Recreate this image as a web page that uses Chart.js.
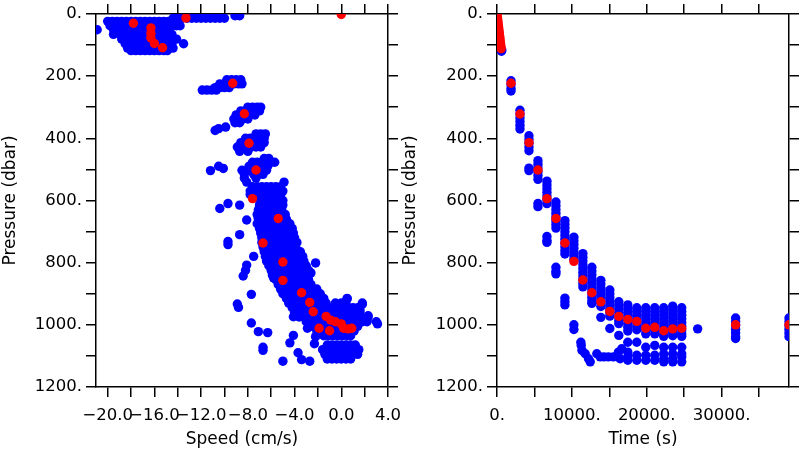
<!DOCTYPE html>
<html>
<head>
<meta charset="utf-8">
<script src="https://cdn.jsdelivr.net/npm/chart.js@4"></script>
<style>
  body { margin: 0; background: #fff; }
  #wrap { position: relative; width: 800px; height: 450px; overflow: hidden; }
  canvas { position: absolute; top: 0; }
  #speedChart { left: 0; }
  #timeChart { left: 400px; }
</style>
</head>
<body>
<div id="wrap">
  <canvas id="speedChart" width="440" height="450"></canvas>
  <canvas id="timeChart" width="400" height="450"></canvas>
</div>
<script>
// axis ticks (minor ticks get an empty label)
const presTicks = [0, 100, 200, 300, 400, 500, 600, 700, 800, 900, 1000, 1100, 1200];
const presTickText = ['0.', '', '200.', '', '400.', '', '600.', '', '800.', '', '1000.', '', '1200.'];
const speedTicks = [-20, -18, -16, -14, -12, -10, -8, -6, -4, -2, 0, 2, 4];
const speedTickText = ['−20.0', '', '−16.0', '', '−12.0', '', '−8.0', '', '−4.0', '', '0.0', '', '4.0'];
const timeTicks = [0, 5000, 10000, 15000, 20000, 25000, 30000, 35000];
const timeTickText = ['0.', '', '10000.', '', '20000.', '', '30000.', ''];

// left panel, all samples: [pressure, speed, speed, ...]
const speedRows = [
    [6, -14.2, -13.8, -13.4, -13.0, -12.6, -12.2, -11.8, -11.4, -11.0, -10.6, -10.2, -9.1, -8.7],
    [14, -14.4, -14.0, -13.6, -13.2, -12.8, -12.4, -12.0, -11.6, -11.2, -10.8, -10.4, -10.0],
    [24, -20.0, -19.6, -19.2, -18.8, -18.4, -18.0, -17.6, -17.2, -16.8, -16.4, -16.0, -15.6, -15.2, -14.8, -14.4],
    [38, -19.8, -19.4, -18.9, -18.5, -18.1, -17.7, -17.3, -16.9, -16.5, -16.1, -15.7, -15.3, -14.9, -14.5, -14.1, -13.8],
    [51, -20.9, -19.5, -19.1, -18.7, -18.3, -17.9, -17.5, -17.1, -16.7, -16.3, -15.9, -15.5, -15.1, -14.7],
    [66, -19.5, -18.9, -18.5, -18.1, -17.7, -17.3, -16.9, -16.5, -16.1, -15.7, -15.3, -14.9, -14.5],
    [81, -18.8, -18.4, -18.0, -17.6, -17.2, -16.8, -16.4, -16.0, -15.6, -15.2, -14.8, -14.4, -14.1],
    [96, -18.5, -18.1, -17.7, -17.3, -16.9, -16.5, -16.1, -15.7, -15.3, -14.9, -14.5, -13.5],
    [110, -18.3, -17.9, -17.5, -17.1, -16.7, -16.3, -15.9, -15.5, -15.1, -14.7, -14.4],
    [118, -18.0, -17.6, -17.2, -16.8, -16.4, -16.0, -15.6, -15.2, -14.9],
    [212, -9.8, -9.4, -9.0, -8.6],
    [225, -10.4, -10.0, -9.6, -9.2, -8.8, -8.5],
    [237, -10.8, -10.4, -10.0, -9.6],
    [245, -11.9, -11.5, -11.1, -10.7],
    [300, -8.0, -7.6, -7.2, -6.9],
    [312, -8.6, -8.2, -7.8, -7.4, -7.0],
    [325, -9.0, -8.6, -8.2, -7.8, -7.4],
    [338, -9.2, -8.8, -8.4, -8.0],
    [350, -9.1, -8.7],
    [386, -7.3, -6.9, -6.5],
    [400, -8.2, -7.8, -7.4, -7.0, -6.6],
    [414, -8.6, -8.2, -7.8, -7.4, -7.0, -6.6],
    [428, -8.9, -8.5, -8.1, -7.7, -7.3, -6.9],
    [442, -8.7, -8.0],
    [465, -6.6, -6.2],
    [477, -7.6, -7.2, -6.8, -6.4, -6.0, -5.7],
    [490, -7.9, -7.5, -7.1, -6.7, -6.3],
    [503, -8.5, -8.0, -7.6, -7.2, -6.8, -6.4],
    [516, -8.3, -7.5, -7.1, -6.7],
    [528, -8.3, -7.3],
    [541, -8.1, -4.9],
    [556, -7.6, -7.2, -6.8, -6.4, -6.0, -5.6, -5.2],
    [570, -7.8, -7.4, -7.0, -6.6, -6.2, -5.8, -5.4, -5.0],
    [585, -7.6, -7.2, -6.8, -6.4, -6.0, -5.6, -5.2],
    [600, -7.0, -6.6, -6.2, -5.8, -5.4, -5.0],
    [615, -7.0, -6.6, -6.2, -5.8, -5.4, -5.0],
    [630, -7.1, -6.7, -6.3, -5.9, -5.5, -5.1],
    [645, -7.2, -6.8, -6.4, -6.0, -5.6, -5.2, -4.8],
    [660, -7.1, -6.7, -6.3, -5.9, -5.5, -5.1, -4.7],
    [675, -7.2, -6.8, -6.4, -6.0, -5.6, -5.2, -4.8, -4.4],
    [690, -7.0, -6.6, -6.2, -5.8, -5.4, -5.0, -4.6, -4.2],
    [705, -6.9, -6.5, -6.1, -5.7, -5.3, -4.9, -4.5, -4.1],
    [720, -6.8, -6.4, -6.0, -5.6, -5.2, -4.8, -4.4, -4.0],
    [735, -6.8, -6.4, -6.0, -5.6, -5.2, -4.8, -4.4, -4.0, -3.8],
    [750, -6.7, -6.3, -5.9, -5.5, -5.1, -4.7, -4.3, -3.9],
    [765, -6.6, -6.2, -5.8, -5.4, -5.0, -4.6, -4.2, -3.8, -3.5],
    [780, -6.5, -6.1, -5.7, -5.3, -4.9, -4.5, -4.1, -3.7, -3.3],
    [795, -6.4, -6.0, -5.6, -5.2, -4.8, -4.4, -4.0, -3.6, -3.2],
    [810, -6.2, -5.8, -5.4, -5.0, -4.6, -4.2, -3.8, -3.4, -3.0],
    [825, -6.0, -5.6, -5.2, -4.8, -4.4, -4.0, -3.6, -3.2, -2.8],
    [840, -5.9, -5.5, -5.1, -4.7, -4.3, -3.9, -3.5, -3.1, -2.8],
    [855, -5.6, -5.2, -4.8, -4.4, -4.0, -3.6, -3.2, -2.8],
    [870, -5.4, -5.0, -4.6, -4.2, -3.8, -3.4, -3.0, -2.6],
    [885, -5.2, -4.8, -4.4, -4.0, -3.6, -3.2, -2.8, -2.4, -2.1],
    [900, -5.0, -4.6, -4.2, -3.8, -3.4, -3.0, -2.6, -2.2, -1.8],
    [915, -4.7, -4.3, -3.9, -3.5, -3.1, -2.7, -2.3, -1.9, -1.5, 0.5],
    [930, -4.5, -4.1, -3.7, -3.3, -2.9, -2.5, -2.1, -1.7, -1.3, -0.5, 0.0, 0.4, 1.8],
    [945, -4.2, -3.8, -3.4, -3.0, -2.6, -2.2, -1.8, -1.4, -1.0, -0.6, -0.2, 0.2, 0.6, 1.0, 1.4],
    [960, -4.0, -3.6, -3.2, -2.8, -2.4, -2.0, -1.6, -1.2, -0.8, -0.4, 0.0, 0.4, 0.8, 1.2, 1.6],
    [975, -3.6, -3.2, -2.8, -2.4, -2.0, -1.6, -1.2, -0.8, -0.4, 0.0, 0.4, 0.8, 1.2, 1.6, 2.3],
    [990, -3.0, -2.6, -2.2, -1.8, -1.4, -1.0, -0.6, -0.2, 0.2, 0.6, 1.0, 1.4, 1.8, 2.2, 3.0],
    [1005, -2.6, -2.2, -1.8, -1.4, -1.0, -0.6, -0.2, 0.2, 0.6, 1.0, 1.4],
    [1020, -2.1, -1.7, -1.3, -0.9, -0.5, -0.1, 0.3, 0.7, 1.1],
    [1035, -1.5, -1.1, -0.7, -0.3, 0.1, 0.5, 0.8],
    [1065, -1.2, -0.8, -0.4, 0.0, 0.4, 0.8, 1.2],
    [1080, -1.6, -1.2, -0.8, -0.4, 0.0, 0.4, 0.8, 1.2, 1.5],
    [1095, -1.4, -1.0, -0.6, -0.2, 0.2, 0.6, 1.0, 1.4],
    [1110, -1.2, -0.8, -0.4, 0.0, 0.4, 0.8]
];
// scattered samples off the main band: [speed, pressure]
const speedStray = [
    [-10.8, 375], [-10.5, 369], [-9.9, 364], [-11.2, 504], [-10.5, 490], [-10.1, 497],
    [-10.4, 626], [-9.7, 610], [-8.7, 615], [-8.1, 663], [-7.1, 656], [-7.8, 581],
    [-8.7, 710], [-9.7, 732], [-9.7, 742], [-7.5, 780], [-8.1, 808], [-8.2, 825],
    [-8.4, 843], [-5.8, 849], [-7.7, 902], [-8.9, 933], [-8.8, 944], [-7.7, 994],
    [-7.1, 1022], [-6.3, 1025], [-6.7, 1072], [-6.7, 1082], [-5.0, 1117], [-4.1, 1034],
    [-4.4, 1058], [-3.7, 1090], [-3.4, 1112], [-2.7, 1117], [-2.3, 1061], [-2.9, 1011],
    [-2.2, 1038], [-4.1, 974], [-2.2, 801], [-2.6, 833], [0.5, 916], [1.8, 934],
    [1.6, 952], [2.3, 971], [2.2, 987], [3.1, 997]
];
// profile means: [speed, pressure]
const speedMeans = [
    [0.0, 2], [-13.3, 13], [-17.8, 30], [-16.3, 45], [-16.3, 62], [-16.3, 77], [-16.0, 95], [-15.3, 109],
    [-9.3, 223], [-8.3, 321], [-7.9, 416], [-7.3, 502], [-7.6, 594], [-5.4, 658], [-6.7, 737],
    [-5.0, 798], [-5.0, 857], [-3.4, 897], [-2.7, 928], [-2.4, 958], [-1.3, 973], [-0.9, 985],
    [-0.5, 990], [0.0, 997], [0.2, 1011], [0.6, 1013], [0.9, 1011], [-1.9, 1011], [-1.0, 1019]
];

// right panel: one column of pressures per profile time
const profileTimes = [1870, 3070, 4270, 5470, 6670, 7870, 9070, 10270, 11470, 12670, 13870,
    15070, 16270, 17470, 18670, 19870, 21070, 22270, 23470, 24670, 31870, 39000];
const profilePres = [
    [215, 228, 240, 248],
    [310, 322, 334, 346, 358, 370],
    [392, 404, 416, 428, 440, 496, 504],
    [472, 484, 496, 508, 520, 532, 610, 620],
    [538, 550, 562, 574, 586, 598, 610, 716, 728, 735],
    [605, 617, 629, 641, 653, 665, 677, 689, 815, 828, 836],
    [665, 677, 689, 701, 713, 725, 737, 749, 761, 772, 914, 925, 936],
    [718, 730, 742, 754, 766, 778, 790, 1000, 1015],
    [771, 783, 795, 807, 819, 831, 843, 855, 867, 878],
    [815, 827, 839, 851, 863, 875, 887, 899, 911, 923, 931],
    [857, 869, 881, 893, 905, 917, 929, 941, 976],
    [888, 900, 912, 924, 936, 948, 960, 972, 1012],
    [926, 938, 950, 962, 974, 986, 996, 1034],
    [936, 948, 960, 972, 984, 996, 1008, 1020, 1056, 1088, 1103, 1114],
    [945, 957, 969, 981, 993, 1005, 1016, 1056, 1098, 1114],
    [945, 957, 969, 981, 993, 1005, 1017, 1029, 1072, 1098, 1114],
    [945, 957, 969, 981, 993, 1005, 1017, 1029, 1066, 1098, 1114],
    [945, 957, 969, 981, 993, 1005, 1017, 1029, 1037, 1072, 1093, 1109, 1119],
    [940, 952, 964, 976, 988, 1000, 1012, 1024, 1035, 1072, 1093, 1109, 1119],
    [945, 957, 969, 981, 993, 1005, 1017, 1029, 1037, 1072, 1093, 1103, 1119],
    [978, 990, 1002, 1014, 1026, 1038, 1044],
    [978, 990, 1002, 1014, 1026, 1038]
];
// samples between profiles: [time, pressure]
const timeStray = [
    [600, 120], [640, 116], [11200, 1056], [11250, 1066], [11350, 1082], [11780, 1093],
    [12220, 1109], [12450, 1119], [13330, 1093], [13780, 1103], [14300, 1103], [14880, 1103],
    [15550, 1103], [16220, 1088], [16660, 1077], [16440, 1109], [26800, 1013]
];
// profile means: [time, pressure]
const timeMeans = [
    [0, 0], [40, 8], [80, 16], [120, 24], [160, 32], [200, 40], [240, 48], [280, 56],
    [320, 64], [360, 72], [400, 80], [440, 88], [480, 96], [520, 104], [560, 112],
    [1870, 223], [3070, 322], [4270, 414], [5470, 502], [6670, 594], [7870, 658], [9070, 737],
    [10270, 796], [11470, 856], [12670, 897], [13870, 926], [15070, 957], [16270, 973],
    [17470, 983], [18670, 989], [19870, 1011], [21070, 1008], [22270, 1019], [23470, 1013],
    [24670, 1011], [31870, 1000], [39000, 1000]
];

const FONT = 'DejaVu Sans';
const BLUE = '#0000ff', RED = '#ff0000';
const DOT = 4.7;

function rowsToPoints(rows) {
    const pts = [];
    rows.forEach(r => r.slice(1).forEach(s => pts.push({ x: s, y: r[0] })));
    return pts;
}
function pairsToPoints(pairs) {
    return pairs.map(p => ({ x: p[0], y: p[1] }));
}

function makeScales(xMin, xMax, xTicks, xText, xTitle, leftW, rightW) {
    const grid = { drawOnChartArea: false, drawTicks: true, tickLength: 10, color: '#000', lineWidth: 1.5 };
    const border = { display: true, color: '#000', width: 1.5 };
    const tickFont = { family: FONT, size: 16.5 };
    const titleFont = { family: FONT, size: 17 };
    const setTicks = vals => s => { s.ticks = vals.map(v => ({ value: v })); };
    const yBase = { type: 'linear', reverse: true, min: 0, max: 1200, grid, border, afterBuildTicks: setTicks(presTicks) };
    const xBase = { type: 'linear', min: xMin, max: xMax, grid, border, afterBuildTicks: setTicks(xTicks) };
    return {
        x: Object.assign({}, xBase, {
            position: 'bottom',
            afterFit: s => { s.height = 63; },
            ticks: { autoSkip: false, maxRotation: 0, minRotation: 0, padding: 9, color: '#000', font: tickFont,
                callback: (v, i) => xText[i] },
            title: { display: true, text: xTitle, color: '#000', font: titleFont, padding: 0 }
        }),
        x2: Object.assign({}, xBase, {
            position: 'top',
            afterFit: s => { s.height = 10; },
            ticks: { display: false }
        }),
        y: Object.assign({}, yBase, {
            position: 'left',
            afterFit: s => { s.width = leftW; },
            ticks: { autoSkip: false, padding: 4, color: '#000', font: tickFont, callback: (v, i) => presTickText[i] },
            title: { display: true, text: 'Pressure (dbar)', color: '#000', font: titleFont, padding: 0 }
        }),
        y2: Object.assign({}, yBase, {
            position: 'right',
            afterFit: s => { s.width = rightW; },
            ticks: { display: false }
        })
    };
}

function makeChart(id, blue, red, scales) {
    return new Chart(document.getElementById(id), {
        type: 'scatter',
        data: {
            datasets: [
                { data: red, backgroundColor: RED, borderWidth: 0, pointRadius: DOT, clip: 0 },
                { data: blue, backgroundColor: BLUE, borderWidth: 0, pointRadius: DOT, clip: 0 }
            ]
        },
        options: {
            responsive: false,
            animation: false,
            plugins: { legend: { display: false }, tooltip: { enabled: false } },
            scales
        }
    });
}

makeChart('speedChart',
    rowsToPoints(speedRows).concat(pairsToPoints(speedStray)),
    pairsToPoints(speedMeans),
    makeScales(-21, 4, speedTicks, speedTickText, 'Speed (cm/s)', 96, 52));

const timeBlue = [];
profileTimes.forEach((t, i) => profilePres[i].forEach(p => timeBlue.push({ x: t, y: p })));
makeChart('timeChart',
    timeBlue.concat(pairsToPoints(timeStray)),
    pairsToPoints(timeMeans),
    makeScales(0, 39000, timeTicks, timeTickText, 'Time (s)', 97, 11));
</script>
</body>
</html>
